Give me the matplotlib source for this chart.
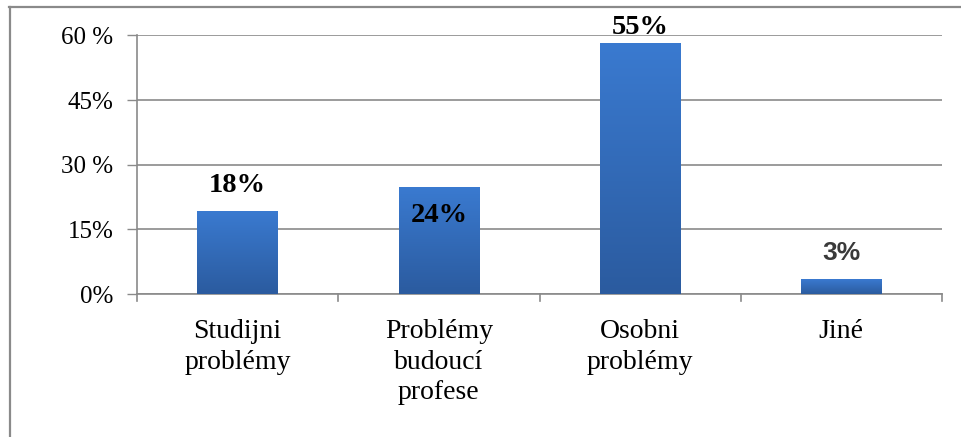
import numpy as np
import matplotlib.pyplot as plt
from matplotlib.colors import LinearSegmentedColormap
from matplotlib.lines import Line2D

# data
categories = ['Studijni\nproblémy', 'Problémy\nbudoucí\nprofese', 'Osobni\nproblémy', 'Jiné']
heights = [19.1, 24.7, 58.2, 3.3]
value_labels = ['18%', '24%', '55%', '3%']
yticks = [0, 15, 30, 45, 60]
ytick_labels = ['0%', '15%', '30 %', '45%', '60 %']

fig = plt.figure(figsize=(9.61, 4.37), dpi=100)
ax = fig.add_axes([0.1426, 0.3272, 0.9802 - 0.1426, 0.9188 - 0.3272])

# outer frame (only left and top visible in the picture)
fig.add_artist(Line2D([9.5 / 961, 9.5 / 961], [0, 1 - 7 / 437], color='#8a8a8a', lw=1.6))
fig.add_artist(Line2D([9 / 961, 1], [1 - 7 / 437, 1 - 7 / 437], color='#8a8a8a', lw=1.6))

x = np.arange(len(categories))
bars = ax.bar(x, heights, width=0.4, color='none', zorder=3)

cmap = LinearSegmentedColormap.from_list('blu', ['#2b5b9f', '#3a7ad0'])
grad = np.linspace(0, 1, 256).reshape(-1, 1)
for b in bars:
    x0, w, h = b.get_x(), b.get_width(), b.get_height()
    ax.imshow(grad, cmap=cmap, origin='lower', aspect='auto',
              extent=[x0, x0 + w, 0, h], zorder=3)

ax.set_xlim(-0.5, len(categories) - 0.5)
ax.set_ylim(0, 60)

ax.set_yticks(yticks)
ax.set_yticklabels(ytick_labels, fontfamily='Liberation Serif', fontsize=18)
ax.set_xticks(x)
ax.set_xticklabels(categories, fontfamily='Liberation Serif', fontsize=20, linespacing=1.3)
ax.tick_params(axis='x', length=0, pad=18)
ax.tick_params(axis='y', length=7, width=1, color='#8a8a8a', pad=10)

# boundary ticks between categories
for xb in np.arange(-0.5, len(categories), 1.0):
    ax.plot([xb, xb], [0, -1.7], color='#8a8a8a', lw=1.2, clip_on=False, zorder=2)

ax.yaxis.grid(True, color='#8a8a8a', lw=1.2, zorder=1)
ax.set_axisbelow(True)
for s in ['top', 'right']:
    ax.spines[s].set_visible(False)
ax.spines['left'].set_color('#8a8a8a')
ax.spines['bottom'].set_color('#8a8a8a')
ax.spines['left'].set_linewidth(1.2)
ax.spines['bottom'].set_linewidth(1.2)

# value labels as placed in the reference
label_y = [25.1, 18.3, 61.8, 9.5]
for i, (lab, ly) in enumerate(zip(value_labels, label_y)):
    if lab == '3%':
        ax.text(x[i], ly, lab, ha='center', va='center', fontsize=19,
                fontfamily='Liberation Sans', fontweight='bold', color='#3a3a3a', zorder=5)
    else:
        ax.text(x[i], ly, lab, ha='center', va='center', fontsize=20.5,
                fontfamily='Liberation Serif', fontweight='bold', color='black',
                zorder=5, clip_on=False)

fig.savefig('out.png', dpi=100)
